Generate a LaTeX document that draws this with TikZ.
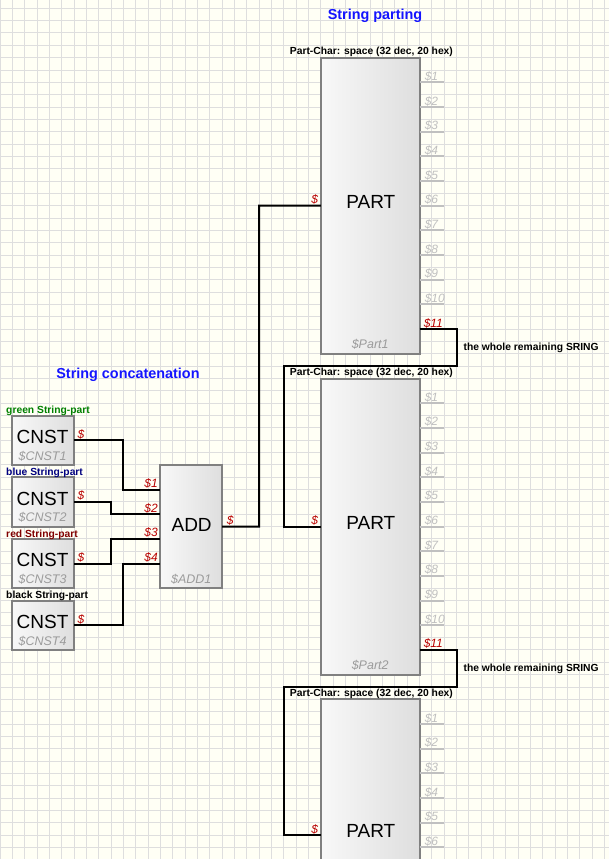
\documentclass[tikz,border=0pt]{standalone}
\usepackage{fontspec}
\setmainfont{Liberation Sans}
\definecolor{bgc}{RGB}{255,255,245}
\definecolor{gridc}{RGB}{222,222,222}
\definecolor{borderc}{RGB}{128,128,128}
\definecolor{boxl}{RGB}{248,248,248}
\definecolor{boxr}{RGB}{222,222,222}
\definecolor{pingray}{RGB}{192,192,192}
\definecolor{instgray}{RGB}{155,155,155}
\definecolor{redc}{RGB}{185,0,0}
\definecolor{titleblue}{RGB}{20,20,255}
\definecolor{lgreen}{RGB}{0,128,0}
\definecolor{lblue}{RGB}{0,0,128}
\definecolor{lred}{RGB}{128,0,0}
\definecolor{lblack}{RGB}{0,0,0}
\tikzset{
  grd/.style={draw=gridc, line width=1pt},
  blk/.style={draw=borderc, line width=2pt, left color=boxl, right color=boxr, inner sep=0pt, outer sep=0pt, anchor=north west},
  wire/.style={draw=black, line width=2pt},
  pinln/.style={draw=pingray, line width=2pt},
  bigt/.style={font=\fontsize{19}{19}\selectfont, inner sep=0pt},
  inst/.style={font=\fontsize{12.5}{12.5}\selectfont\itshape, text=instgray, inner sep=0pt},
  pinl/.style={font=\fontsize{12}{12}\selectfont\itshape, text=pingray, inner sep=1pt},
  redl/.style={font=\fontsize{12}{12}\selectfont\itshape, text=redc, inner sep=1pt},
  note/.style={font=\fontsize{10.3}{10.3}\selectfont\bfseries, inner sep=0pt},
  ttl/.style={font=\fontsize{14.4}{14.4}\selectfont\bfseries, text=titleblue, inner sep=0pt},
}
\begin{document}
\begin{tikzpicture}[x=12.34pt,y=-12.34pt]
\useasboundingbox (0,-0.6726) rectangle (49.352,68.938);
\clip (0,-0.6726) rectangle (49.352,68.938);
\fill[bgc] (0,-0.6726) rectangle (49.352,68.938);
\foreach \i in {0,...,49} \draw[grd] (\i,-0.6726) -- (\i,68.938);
\foreach \j in {0,...,68} \draw[grd] (0,\j) -- (49.352,\j);

% titles
\node[ttl] (t1) at (10.37,29.7) {String concatenation};
\node[ttl] (t2) at (30.39,0.6) {String parting};

% CNST blocks
\foreach \n/\yy/\lab/\col in {1/33/green String-part/lgreen, 2/38/blue String-part/lblue, 3/43/red String-part/lred, 4/48/black String-part/lblack} {
  \node[blk, minimum width=61.7pt, minimum height=49.36pt] (cnst\n) at (1,\yy) {};
  \node[bigt] (cnst\n t) at (3.45,\yy+1.74) {CNST};
  \node[inst] (cnst\n i) at (3.45,\yy+3.28) {\$CNST\n};
  \node[note, text=\col, anchor=west] (cnst\n l) at (0.49,\yy-0.37) {\lab};
  \node[redl, anchor=south west] (cnst\n o) at ([xshift=2.5pt]cnst\n.east) {\$};
}

% ADD block
\node[blk, minimum width=61.7pt, minimum height=123.4pt] (add) at (13,37) {};
\node[bigt] (addt) at (15.53,41.9) {ADD};
\node[inst] (addi) at (15.5,46.25) {\$ADD1};
\coordinate (a1) at (13,39);
\coordinate (a2) at (13,41);
\coordinate (a3) at (13,43);
\coordinate (a4) at (13,45);
\foreach \k in {1,...,4} \node[redl, anchor=south east] (al\k) at ([xshift=-1.5pt]a\k) {\$\k};
\node[redl, anchor=south west] (addo) at ([xshift=3.5pt]add.east) {\$};

\draw[wire] (cnst1.east) -| (10,39) -- (a1);
\draw[wire] (cnst2.east) -| (9,41) -- (a2);
\draw[wire] (cnst3.east) -| (9,43) -- (a3);
\draw[wire] (cnst4.east) -| (10,45) -- (a4);

% PART blocks 1 and 2
\foreach \p/\yy in {1/4, 2/30} {
  \node[blk, minimum width=98.72pt, minimum height=296.16pt] (part\p) at (26,\yy) {};
  \node[note] (pc\p) at (30.1,\yy-0.48) {Part-Char: space (32 dec, 20 hex)};
  \node[bigt] (pt\p) at (30.05,\yy+11.67) {PART};
  \node[inst] (pi\p) at (30,\yy+23.2) {\$Part\p};
  \node[redl, anchor=south east] (pin\p) at ([xshift=-1.5pt]part\p.west) {\$};
  \foreach \k in {1,...,10} {
    \coordinate (p\p s\k) at (34,\yy+2*\k);
    \draw[pinln] (p\p s\k) -- ++(2,0);
    \node[pinl, anchor=south west] (p\p l\k) at ([xshift=4pt]p\p s\k) {\$\k};
  }
  \coordinate (p\p s11) at (34,\yy+22);
  \node[redl, anchor=south west] (p\p l11) at ([xshift=3pt]p\p s11) {\$11};
  \node[note, anchor=west] (rem\p) at (37.55,\yy+23.55) {the whole remaining SRING};
}

% PART block 3
\node[blk, minimum width=98.72pt, minimum height=271.48pt] (part3) at (26,56) {};
\node[note] (pc3) at (30.1,55.52) {Part-Char: space (32 dec, 20 hex)};
\node[bigt] (pt3) at (30.05,66.7) {PART};
\node[redl, anchor=south east] (pin3) at ([xshift=-1.5pt]part3.west) {\$};
\foreach \k in {1,...,6} {
  \coordinate (p3s\k) at (34,56+2*\k);
  \draw[pinln] (p3s\k) -- ++(2,0);
  \node[pinl, anchor=south west] (p3l\k) at ([xshift=4pt]p3s\k) {\$\k};
}

% connections
\draw[wire] (add.east) -| (21,16) -- (part1.west);
\draw[wire] (p1s11) -- (37,26) -- (37,29) -- (23,29) |- (part2.west);
\draw[wire] (p2s11) -- (37,52) -- (37,55) -- (23,55) |- (part3.west);
\end{tikzpicture}
\end{document}
